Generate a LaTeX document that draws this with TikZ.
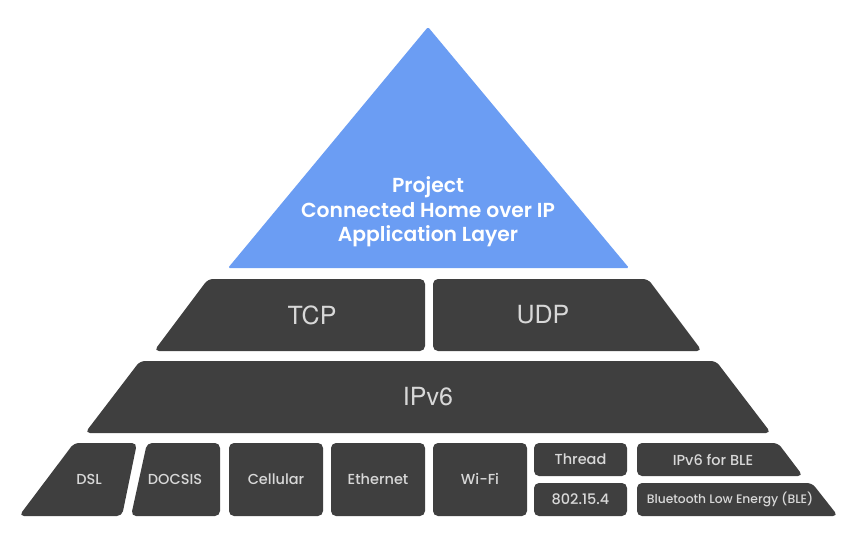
\documentclass[tikz,border=0pt]{standalone}
\usepackage{fontspec}
\setmainfont{Poppins}
\newfontfamily\heros{TeX Gyre Heros}
\newfontfamily\popmed{Poppins Medium}
\newfontfamily\popsemi{Poppins SemiBold}
\definecolor{layerbg}{HTML}{3F3F3F}
\definecolor{appbg}{HTML}{6B9DF3}
\definecolor{layertxt}{HTML}{D8D8D8}
\begin{document}
\begin{tikzpicture}[line join=round,x=1pt,y=-1pt]
		\tikzset{layer/.style={fill=layerbg,rounded corners=5pt},
			big/.style={text=layertxt,font=\heros\fontsize{25}{25}\selectfont},
			small/.style={text=layertxt,font=\popmed\fontsize{14.5}{14.5}\selectfont}}
		\useasboundingbox (0,0) rectangle (858,533);
		%Đỉnh tháp: tầng ứng dụng
		\fill[appbg,rounded corners=1.5pt] (428,27)--(629,268)--(228,268)--cycle;
		\node[white,align=center,font=\popsemi\fontsize{20.3}{24.5}\selectfont] (app) at (428,212) {Project\\Connected Home over IP\\Application Layer};
		%Tầng vận chuyển
		\fill[layer] (208,279)--(425,279)--(425,351)--(154,351)--cycle;
		\fill[layer] (433,279)--(648,279)--(702,351)--(433,351)--cycle;
		\node[big] (tcp) at (312,315) {TCP};
		\node[big] (udp) at (543,315) {UDP};
		%Tầng mạng
		\fill[layer] (140,361)--(716,361)--(771,433)--(85,433)--cycle;
		\node[big] (ipv6) at (428,397) {IPv6};
		%Tầng liên kết
		\fill[layer] (74,443)--(137,443)--(122,516)--(19,516)--cycle;
		\fill[layer] (147,443)--(220,443)--(220,516)--(131,516)--cycle;
		\node[small] (dsl) at (89,479) {DSL};
		\node[small] (docsis) at (175,479) {DOCSIS};
		\foreach \x/\n/\t in {229/cell/Cellular,331/eth/Ethernet,433/wifi/Wi-Fi}
		{\fill[layer] (\x,443) rectangle (\x+94,516);
			\node[small] (\n) at (\x+47,479) {\t};}
		\foreach \y/\n/\t in {443/thread/Thread,483/ieee/802.15.4}
		{\fill[layer] (534,\y) rectangle (627,\y+33);
			\node[small] (\n) at (580.5,\y+16.5) {\t};}
		\fill[layer] (637,443)--(778,443)--(803,476)--(637,476)--cycle;
		\fill[layer] (637,483)--(812,483)--(838,516)--(637,516)--cycle;
		\node[small] (blev6) at (713,459.5) {IPv6 for BLE};
		\node[small,font=\popmed\fontsize{12.3}{12.3}\selectfont] (ble) at (730,499.5) {Bluetooth Low Energy (BLE)};
\end{tikzpicture}
\end{document}
